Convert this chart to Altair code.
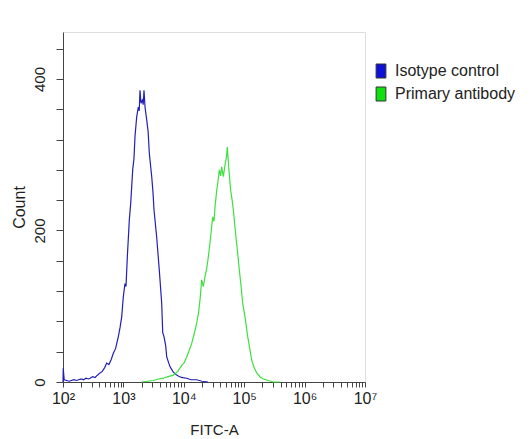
import altair as alt
import pandas as pd

# ---- data (log10 of FITC-A intensity, event count) ----
blue_log = [2.000, 2.004, 2.02, 2.06, 2.10, 2.14, 2.18, 2.22, 2.26, 2.30,
            2.34, 2.38, 2.42, 2.447, 2.49, 2.53, 2.57, 2.613, 2.65, 2.69,
            2.723, 2.76, 2.80, 2.833, 2.87, 2.916, 2.945, 2.972, 2.998, 3.026,
            3.043, 3.065, 3.098, 3.121, 3.154, 3.175, 3.192, 3.220, 3.247, 3.262,
            3.275, 3.291, 3.313, 3.328, 3.341, 3.358, 3.386, 3.41, 3.429, 3.469,
            3.49, 3.507, 3.551, 3.594, 3.634, 3.651, 3.672, 3.70, 3.717, 3.772,
            3.826, 3.87, 3.909, 3.96, 4.048, 4.12, 4.214, 4.30, 4.40]
blue_count = [0, 18, 3, 2, 1, 2, 3, 2, 3, 4,
              3, 5, 4, 5, 7, 6, 9, 12, 14, 19,
              25, 23, 30, 38, 44, 60, 72, 86, 112, 130,
              126, 165, 214, 236, 280, 295, 324, 350, 363, 358,
              385, 368, 372, 366, 385, 363, 346, 330, 302, 271,
              250, 227, 191, 148, 104, 65, 60, 48, 33, 20,
              13, 10, 8, 6, 5, 3, 3, 1, 0]

green_log = [3.30, 3.40, 3.495, 3.58, 3.661, 3.74, 3.826, 3.90, 3.965, 4.01,
             4.048, 4.09, 4.131, 4.17, 4.214, 4.245, 4.268, 4.296, 4.323, 4.351,
             4.38, 4.406, 4.445, 4.478, 4.50, 4.517, 4.545, 4.568, 4.588, 4.61,
             4.627, 4.654, 4.687, 4.705, 4.720, 4.743, 4.776, 4.80, 4.820, 4.864,
             4.89, 4.919, 4.95, 4.975, 5.013, 5.058, 5.09, 5.124, 5.16, 5.207,
             5.26, 5.316, 5.40, 5.482, 5.6]
green_count = [0, 1, 2, 4, 5, 7, 9, 14, 22, 26,
               33, 42, 51, 63, 78, 92, 108, 135, 126, 139,
               150, 165, 192, 218, 212, 231, 253, 266, 280, 272,
               284, 271, 289, 296, 310, 284, 253, 240, 227, 191,
               172, 148, 125, 104, 86, 60, 45, 29, 20, 12,
               7, 4, 2, 0, 0]

series_names = ["Isotype control", "Primary antibody"]
series_colors = ["#2020b8", "#3ee03e"]
legend_fill = ["#1010d8", "#10e010"]

x_decades = [100, 1000, 10000, 100000, 1000000, 10000000]
x_decade_labels = ["10²", "10³", "10⁴", "10⁵", "10⁶", "10⁷"]
y_tick_values = [0, 40, 80, 120, 160, 200, 240, 280, 320, 360, 400, 440]
y_label_values = [0, 200, 400]

rows = []
for name, logs, counts in [(series_names[0], blue_log, blue_count),
                           (series_names[1], green_log, green_count)]:
    for i, (lg, c) in enumerate(zip(logs, counts)):
        rows.append({"series": name, "fitc": 10 ** lg, "count": c, "order": i})
df = pd.DataFrame(rows)
legend_df = pd.DataFrame({"series": series_names, "fitc": [1000, 1000], "count": [0, 0]})

x_ticks = []
for d in x_decades[:-1]:
    for m in range(1, 10):
        x_ticks.append(d * m)
x_ticks.append(x_decades[-1])

label_expr = ""
for v, lab in zip(x_decades, x_decade_labels):
    label_expr += f"datum.value == {v} ? '{lab}' : "
label_expr += "''"

y_label_expr = " || ".join(f"datum.value == {v}" for v in y_label_values)
y_label_expr = f"({y_label_expr}) ? datum.label : ''"

NARROW = "Liberation Sans Narrow, Liberation Sans, Arial, sans-serif"
REG = "Liberation Sans, Arial, sans-serif"

x_axis = alt.Axis(title="FITC-A", values=x_ticks, labelExpr=label_expr,
                  grid=False, tickSize=5, labelPadding=3,
                  labelFont=NARROW, labelFontSize=16, labelColor="#222",
                  titleFont=REG, titleFontSize=15, titleFontWeight="normal",
                  titleColor="#222", titlePadding=16,
                  domainColor="#444", tickColor="#444",
                  labelFlush=False, labelOverlap=False)
y_axis = alt.Axis(title="Count", values=y_tick_values, labelExpr=y_label_expr,
                  grid=False, tickSize=7, labelPadding=9,
                  labelAngle=270, labelAlign="center", labelBaseline="bottom",
                  labelFont=NARROW, labelFontSize=15, labelColor="#222",
                  titleFont=REG, titleFontSize=16, titleFontWeight="normal",
                  titleColor="#222", titlePadding=5,
                  domainColor="#444", tickColor="#444",
                  labelFlush=False, labelOverlap=False)
x_scale = alt.Scale(type="log", domain=[100, 10000000], nice=False)
y_scale = alt.Scale(domain=[0, 462], nice=False)

lines = alt.Chart(df).mark_line(strokeWidth=1.2, interpolate="linear").encode(
    x=alt.X("fitc:Q", scale=x_scale, axis=x_axis),
    y=alt.Y("count:Q", scale=y_scale, axis=y_axis),
    color=alt.condition(alt.datum.series == series_names[0],
                        alt.value(series_colors[0]), alt.value(series_colors[1])),
    detail="series:N",
    order="order:Q",
)

legend_layer = alt.Chart(legend_df).mark_point(filled=True, size=0).encode(
    x=alt.X("fitc:Q", scale=x_scale, axis=x_axis),
    y=alt.Y("count:Q", scale=y_scale, axis=y_axis),
    fill=alt.Fill("series:N",
                  scale=alt.Scale(domain=series_names, range=legend_fill),
                  legend=alt.Legend(
                      title=None, orient="none", legendX=310, legendY=31,
                      symbolType="M-0.7,-1H0.7V1H-0.7Z", symbolSize=196,
                      symbolOpacity=1, symbolStrokeColor="#333", symbolStrokeWidth=1,
                      labelFont=NARROW, labelFontSize=16, labelColor="#222",
                      labelOffset=6, rowPadding=5, padding=0)),
)

chart = alt.layer(lines, legend_layer).properties(
    width=302, height=350,
    autosize=alt.AutoSizeParams(type="none"),
    padding={"left": 55, "top": 24, "right": 150, "bottom": 55},
).configure_view(
    stroke="#444", strokeWidth=1.5, fill="white"
).configure(background="white")

chart.save("out.html", embed_options={"renderer": "svg", "actions": False})
